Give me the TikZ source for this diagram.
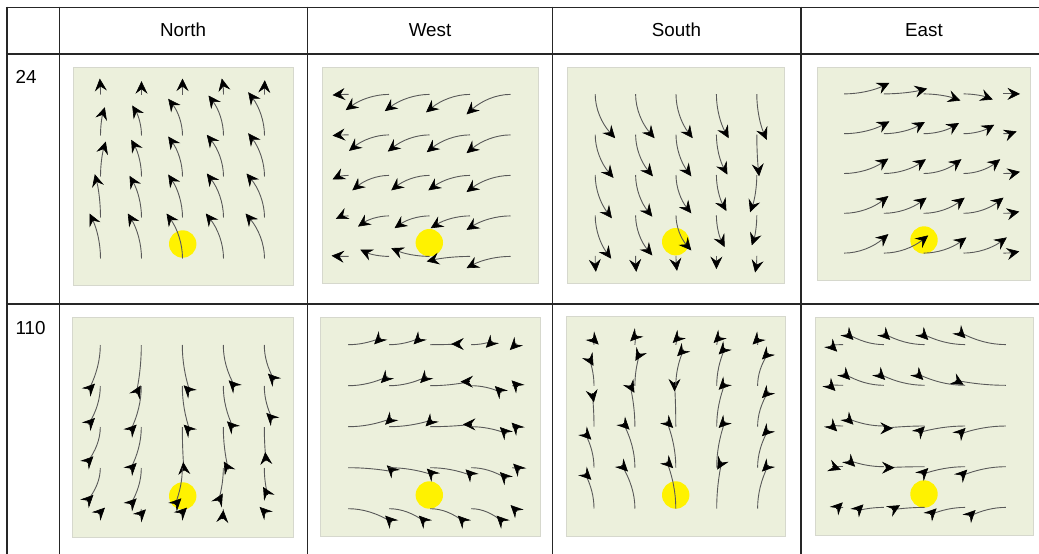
\documentclass[tikz,border=0pt]{standalone}
\usepackage{fontspec}
\setmainfont{Liberation Sans}
\usetikzlibrary{arrows.meta}
\definecolor{panelgreen}{HTML}{ECF0DC}
\definecolor{panelrim}{HTML}{D6D8CD}
\definecolor{sunspot}{HTML}{FFF200}
\tikzstyle{tablerule}=[draw=black!85,line width=1.6pt]
\tikzstyle{panel}=[fill=panelgreen,draw=panelrim,line width=0.8pt]
\tikzstyle{spot}=[fill=sunspot]
\tikzstyle{headtext}=[font=\fontsize{18.8}{22}\selectfont,inner sep=0pt]
\tikzstyle{stream}=[draw=black!65,line width=0.9pt]
\tikzstyle{flow}=[stream,-{Stealth[length=12.5pt,width=12pt,inset=4.5pt,black,line width=0.6pt]}]
\tikzstyle{barb}=[draw=black,line width=0.9pt,-{Stealth[length=12.5pt,width=12pt,inset=4.5pt,line width=0.6pt]}]

\begin{document}
\begin{tikzpicture}[x=1pt,y=-1pt]
    \useasboundingbox (0,0) rectangle (1039,554);

    % table
    \foreach \x in {6.7,59.4,307.4,552.5,801}
        \draw[tablerule] (\x,6.6) -- (\x,554);
    \foreach \y in {7.4,53.8,303.9}
        \draw[tablerule] (5.9,\y) -- (1039,\y);

    \foreach \x/\dir in {183/North,430/West,676.5/South,924/East}
        \node[headtext,anchor=base] (h\dir) at (\x,36) {\dir};
    \node[headtext,anchor=base west] (r24) at (15.4,83) {24};
    \node[headtext,anchor=base west] (r110) at (15.4,334) {110};

    % panels and spots
    \foreach \xa/\ya/\xb/\yb in {73/67/293/285, 322/67.7/538/283.7, 567.7/67/784.3/283, 817.3/67/1030.7/280.3,
                                 72/317/293.3/537.7, 320/317/540/536, 566.3/316.3/785.7/536.3, 815/317/1033.3/535}
        \path[panel] (\xa,\ya) rectangle (\xb,\yb);
    \foreach \x/\y in {182.7/244, 429.3/242.7, 675.7/241.7, 924/240,
                       182.7/496, 429.3/495, 675.7/495, 924/494}
        \fill[spot] (\x,\y) circle (13.7);

    % row 24
    \begin{scope}[shift={(182.5,176.5)}]
        \def\gap{41}
        \foreach \i/\j/\dx/\dy in {-2/2/-11/-45, -2/1/-5.7/-43.3, -2/0/5.3/-35, -2/-1/4.3/-28.3, -2/-2/-0.7/-16,
                                   -1/2/-13.7/-45, -1/1/-12/-41.7, -1/0/-10.3/-36.7, -1/-1/-9.3/-30, -1/-2/0/-13.3,
                                   0/2/-16/-45, 0/1/-14.3/-43, 0/0/-14.3/-40, 0/-1/-14.3/-36.7, 0/-2/0/-16,
                                   1/2/-17.7/-45, 1/1/-16.7/-44, 1/0/-16.7/-41.7, 1/-1/-15/-40, 1/-2/-1.7/-16,
                                   2/2/-19/-45, 2/1/-18/-44, 2/0/-16.3/-43.3, 2/-1/-16.3/-43.3, 2/-2/0.3/-14.3}
            \draw[flow] (\i*\gap,\j*\gap) .. controls (\i*\gap,\j*\gap+\dy/3) and (\i*\gap+\dx/3,\j*\gap+2*\dy/3) .. (\i*\gap+\dx,\j*\gap+\dy);
    \end{scope}
    \begin{scope}[shift={(429.5,175.4)}]
        \def\gap{40.5}
        \foreach \i/\j/\dx/\dy in {2/-2/-44/20, 1/-2/-44/18, 0/-2/-44.7/16.7, -1/-2/-43.3/15.7, -2/-2/-16/0.7,
                                   2/-1/-44/18.3, 1/-1/-43.3/17.3, 0/-1/-41.7/16.7, -1/-1/-40/16, -2/-1/-16/0.7,
                                   2/0/-44/16.7, 1/0/-41.7/15, 0/0/-38.3/15, -1/0/-36.7/15, -2/0/-16/4,
                                   2/1/-44/14, 1/1/-39.3/12.3, 0/1/-35/12.3, -1/1/-31/10.7, -2/1/-12.7/3,
                                   2/2/-44/11.7, 1/2/-43.3/5, 0/2/-38.3/-8.3, -1/2/-28.7/-6.7, -2/2/-17/-0.7}
            \draw[flow] (\i*\gap,\j*\gap) .. controls (\i*\gap+\dx/3,\j*\gap) and (\i*\gap+2*\dx/3,\j*\gap+\dy/3) .. (\i*\gap+\dx,\j*\gap+\dy);
    \end{scope}
    \begin{scope}[shift={(676,175)}]
        \def\gap{40.4}
        \foreach \i/\j/\dx/\dy in {-2/-2/20/44, -2/-1/18.3/43.3, -2/0/16.7/43.3, -2/1/16/43.3, -2/2/0.7/16,
                                   -1/-2/19/44, -1/-1/17.3/41.7, -1/0/16.7/41.7, -1/1/16.7/40, -1/2/0.7/16,
                                   0/-2/16.7/44, 0/-1/15.3/41.7, 0/0/15.3/38.3, 0/1/15.3/35, 0/2/1/15,
                                   1/-2/12.3/44, 1/-1/11/40, 1/0/10/36, 1/1/8.3/31.7, 1/2/0/13.3,
                                   2/-2/10/45.7, 2/-1/2.3/41.7, 2/0/-6.7/37.3, 2/1/-5/30, 2/2/-1.7/16.7}
            \draw[flow] (\i*\gap,\j*\gap) .. controls (\i*\gap,\j*\gap+\dy/3) and (\i*\gap+\dx/3,\j*\gap+2*\dy/3) .. (\i*\gap+\dx,\j*\gap+\dy);
    \end{scope}
    \begin{scope}[shift={(923.7,173.5)}]
        \def\gap{39.8}
        \foreach \i/\j/\dx/\dy in {-2/-2/45.3/-11, -1/-2/43.3/-5.3, 0/-2/36.7/6.7, 1/-2/29.3/5.7, 2/-2/16.7/0,
                                   -2/-1/45.3/-12.3, -1/-1/41/-11.7, 0/-1/35.3/-10.7, 1/-1/30.7/-9, 2/-1/13.3/-2.3,
                                   -2/0/44.3/-15, -1/0/42/-14.3, 0/0/37.7/-14.3, 1/0/36.7/-14.3, 2/0/16.7/-1.7,
                                   -2/1/44.3/-17.3, -1/1/42.7/-15.7, 0/1/41/-15.7, 1/1/40/-15.7, 2/1/16/-1.7,
                                   -2/2/44.3/-19, -1/2/44.3/-17.7, 0/2/42.7/-15.7, 1/2/43.3/-15.7, 2/2/16/-1.7}
            \draw[flow] (\i*\gap,\j*\gap) .. controls (\i*\gap+\dx/3,\j*\gap) and (\i*\gap+2*\dx/3,\j*\gap+\dy/3) .. (\i*\gap+\dx,\j*\gap+\dy);
    \end{scope}

    % row 110
    \begin{scope}[shift={(182.3,427)}]
        \def\gap{41}
        \foreach \i/\j/\dx/\dy/\a in {-2/-2/-11.7/45/-45, -2/-1/-11.7/38.3/-45, -2/0/-13.3/35.7/-45, -2/1/-13.3/33.3/-45, -2/2/-1.7/5/-45,
                                      -1/-2/-5/48.3/-60, -1/-1/-11/45/-45, -1/0/-11/42.3/-45, -1/1/-11/36.7/-45, -1/2/-1.7/6.7/-45,
                                      0/-2/7.7/46.7/-135, 0/-1/7.7/45/-135, 0/0/1.7/44/-95, 0/1/-7.3/36.7/-45, 0/2/-1.7/5/-45,
                                      1/-2/11.7/41.7/-135, 1/-1/10/41.7/-135, 1/0/5/42.3/-120, 1/1/-5/33.3/-60, 1/2/-0.7/10/-85,
                                      2/-2/10/35/-135, 2/-1/8.3/33.3/-135, 2/0/1.7/34/-95, 2/1/3.3/26.7/-120, 2/2/1.7/4.3/-135} {
            \draw[stream] (\i*\gap,\j*\gap) .. controls (\i*\gap,\j*\gap+\dy/3) and (\i*\gap+\dx/3,\j*\gap+2*\dy/3) .. (\i*\gap+\dx,\j*\gap+\dy) coordinate (e);
            \draw[barb] (e) -- ++(\a:9);
        }
    \end{scope}
    \begin{scope}[shift={(430.2,426.7)}]
        \def\gap{41}
        \foreach \i/\j/\dx/\dy/\a in {-2/-2/32.3/-6.7/135, -1/-2/30.7/-6.7/135, 0/-2/30/-0.7/180, 1/-2/21/-3.3/135, 2/-2/4/-1/135,
                                      -2/-1/39/-9/135, -1/-1/37.3/-9/135, 0/-1/39.3/-4/180, 1/-1/30/6.7/225, 2/-1/5.7/1/225,
                                      -2/0/43.3/-8.3/135, -1/0/42.7/-6.7/135, 0/0/41.7/-2.3/180, 1/0/35/6.7/225, 2/0/5.7/2.3/225,
                                      -2/1/45/4/225, -1/1/44/7.3/225, 0/1/41.7/8/225, 1/1/35/10.7/225, 2/1/7.3/2.3/225,
                                      -2/2/43.3/13.3/225, -1/2/36/13.3/225, 0/2/34/13.3/225, 1/2/31.7/13.3/225, 2/2/4.7/2.7/225} {
            \draw[stream] (\i*\gap,\j*\gap) .. controls (\i*\gap+\dx/3,\j*\gap) and (\i*\gap+2*\dx/3,\j*\gap+\dy/3) .. (\i*\gap+\dx,\j*\gap+\dy) coordinate (e);
            \draw[barb] (e) -- ++(\a:9);
        }
    \end{scope}
    \begin{scope}[shift={(675.8,426.7)}]
        \def\gap{40.9}
        \foreach \i/\j/\dx/\dy/\a in {-2/2/-9/-35/45, -2/1/-9/-34.3/45, -2/0/-1.7/-33.3/80, -2/-1/-5/-27.7/60, -2/-2/-1.7/-6.7/45,
                                      -1/2/-13.3/-43.3/45, -1/1/-11.7/-44.3/45, -1/0/-5/-41.7/60, -1/-1/5/-32.7/120, -1/-2/1.7/-10/135,
                                      0/2/-9/-46.7/45, 0/1/-9/-46/45, 0/0/-1.3/-44.3/90, 0/-1/7.7/-36/135, 0/-2/3.3/-8.3/135,
                                      1/2/5/-46.7/120, 1/1/8.3/-46/135, 1/0/8.3/-43.3/135, 1/-1/8.3/-37.7/135, 1/-2/3.3/-8.3/135,
                                      2/2/10.7/-43.3/135, 2/1/10.7/-37.7/135, 2/0/10.7/-35/135, 2/-1/10.7/-32.7/135, 2/-2/1.3/-6.7/135} {
            \draw[stream] (\i*\gap,\j*\gap) .. controls (\i*\gap,\j*\gap+\dy/3) and (\i*\gap+\dx/3,\j*\gap+2*\dy/3) .. (\i*\gap+\dx,\j*\gap+\dy) coordinate (e);
            \draw[barb] (e) -- ++(\a:9);
        }
    \end{scope}
    \begin{scope}[shift={(924.5,426)}]
        \def\gap{40.7}
        \foreach \i/\j/\dx/\dy/\a in {2/-2/-46.7/-12.7/45, 1/-2/-43.3/-11/45, 0/-2/-40.7/-11/45, -1/-2/-36.7/-11/45, -2/-2/-12.3/0.7/45,
                                      2/-1/-50/-5/30, 1/-1/-48.3/-11.7/45, 0/-1/-45.7/-11.7/45, -1/-1/-40/-11.7/45, -2/-1/-14/-0.7/45,
                                      2/0/-46.7/8.3/-45, 1/0/-46.7/6.7/-45, 0/0/-40.7/2.3/0, -1/0/-36.7/-7.7/45, -2/0/-12.3/-1/45,
                                      2/1/-45/9.3/-45, 1/1/-43.3/7.7/-45, 0/1/-39/1/0, -1/1/-35/-6.3/45, -2/1/-10.7/0/20,
                                      2/2/-36.7/9/-45, 1/2/-35/7.3/-45, 0/2/-32.3/2.3/-30, -1/2/-26.7/3.3/-45, -2/2/-6.7/1.3/-45} {
            \draw[stream] (\i*\gap,\j*\gap) .. controls (\i*\gap+\dx/3,\j*\gap) and (\i*\gap+2*\dx/3,\j*\gap+\dy/3) .. (\i*\gap+\dx,\j*\gap+\dy) coordinate (e);
            \draw[barb] (e) -- ++(\a:9);
        }
    \end{scope}

\end{tikzpicture}
\end{document}
